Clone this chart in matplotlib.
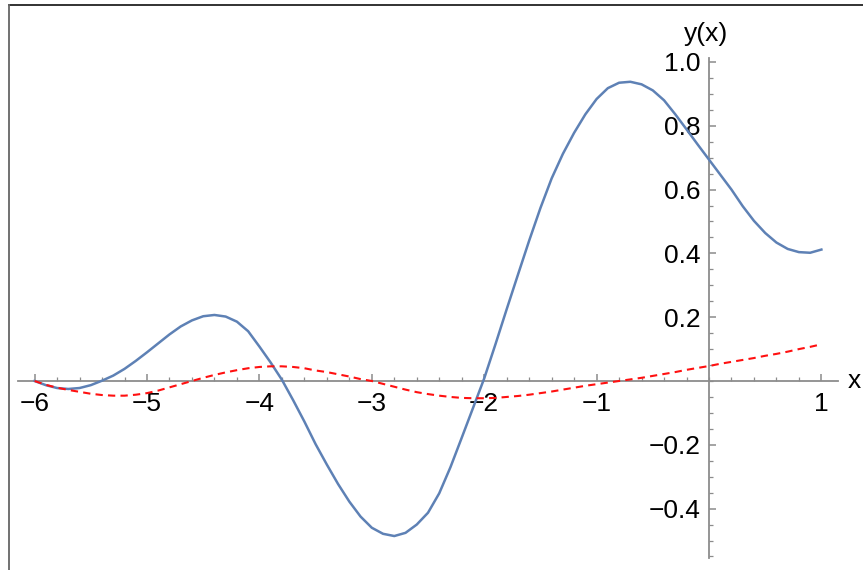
import numpy as np
import matplotlib.pyplot as plt
from matplotlib.lines import Line2D
from matplotlib.ticker import FixedLocator

# x grid (step 0.1 from -6 to 1)
x_vals = np.round(np.arange(-6.0, 1.0001, 0.1), 1)

# solid blue curve y(x)
y_blue = [0.000, -0.013, -0.022, -0.025, -0.022, -0.013, 0.001, 0.017, 0.038, 0.063,
          0.090, 0.118, 0.146, 0.171, 0.190, 0.203, 0.207, 0.202, 0.186, 0.156,
          0.108, 0.058, 0.004, -0.060, -0.127, -0.198, -0.262, -0.323, -0.378, -0.425,
          -0.460, -0.479, -0.486, -0.476, -0.450, -0.413, -0.352, -0.270, -0.178, -0.085,
          0.008, 0.115, 0.225, 0.333, 0.440, 0.542, 0.635, 0.712, 0.778, 0.836,
          0.884, 0.918, 0.935, 0.938, 0.930, 0.911, 0.880, 0.836, 0.789, 0.741,
          0.694, 0.647, 0.600, 0.548, 0.502, 0.464, 0.434, 0.414, 0.404, 0.402,
          0.412]

# dashed red curve
y_red = [0.000, -0.012, -0.021, -0.028, -0.034, -0.040, -0.044, -0.046, -0.046, -0.043,
         -0.038, -0.030, -0.020, -0.010, 0.000, 0.010, 0.019, 0.027, 0.034, 0.040,
         0.044, 0.046, 0.046, 0.044, 0.040, 0.033, 0.028, 0.021, 0.014, 0.006,
         0.000, -0.009, -0.018, -0.027, -0.035, -0.041, -0.046, -0.050, -0.053, -0.054,
         -0.054, -0.053, -0.050, -0.047, -0.043, -0.038, -0.033, -0.027, -0.021, -0.015,
         -0.010, -0.005, 0.000, 0.005, 0.010, 0.016, 0.022, 0.028, 0.035, 0.041,
         0.047, 0.054, 0.060, 0.066, 0.072, 0.079, 0.085, 0.092, 0.100, 0.107,
         0.115]

x_ticks = [-6, -5, -4, -3, -2, -1, 1]
y_ticks = [-0.4, -0.2, 0.2, 0.4, 0.6, 0.8, 1.0]
y_ticklabels = ['\u22120.4', '\u22120.2', '0.2', '0.4', '0.6', '0.8', '1.0']

plt.rcParams['font.family'] = ['Liberation Sans', 'DejaVu Sans']

fig = plt.figure(figsize=(8.63, 5.70), dpi=100)
ax = fig.add_axes([0, 0, 1, 1])
ax.set_xlim(-709 / 112.4, (863 - 709) / 112.4)
ax.set_ylim(-189 / 319, 381 / 319)
ax.patch.set_visible(False)

ax.plot(x_vals, y_blue, color='#5E81B5', linewidth=1.8, solid_joinstyle='round', zorder=3)
ax.plot(x_vals, y_red, color='#FF1010', linewidth=1.5, dashes=(3.5, 2.5), zorder=3)

axcol = '#8c8c8c'
ax.spines['top'].set_visible(False)
ax.spines['right'].set_visible(False)
ax.spines['bottom'].set_position(('data', 0))
ax.spines['left'].set_position(('data', 0))
ax.spines['bottom'].set_bounds(-6.15, 1.15)
ax.spines['left'].set_bounds(-0.555, 1.013)
for s in ['bottom', 'left']:
    ax.spines[s].set_color(axcol)
    ax.spines[s].set_linewidth(1.3)

ax.set_xticks(x_ticks)
ax.set_yticks(y_ticks)
ax.set_yticklabels(y_ticklabels)
# minor ticks only along the drawn axis lines
ax.xaxis.set_minor_locator(FixedLocator(np.round(np.arange(-6.0, 1.01, 0.2), 2)))
ax.yaxis.set_minor_locator(FixedLocator(np.round(np.arange(-0.55, 1.001, 0.05), 3)))

ax.tick_params(axis='x', which='major', direction='in', length=5, width=1.1,
               color=axcol, labelsize=19, pad=8)
ax.tick_params(axis='x', which='minor', direction='in', length=3, width=0.9, color=axcol)
ax.tick_params(axis='y', which='major', direction='in', length=5, width=1.1,
               color=axcol, labelsize=19, pad=6)
ax.tick_params(axis='y', which='minor', direction='in', length=3, width=0.9, color=axcol)

ax.text(-0.03, 1.05, 'y(x)', fontsize=19, ha='center', va='bottom')
ax.text(1.29, 0.0, 'x', fontsize=19, ha='center', va='center')

# screenshot frame on top and left
fig.add_artist(Line2D([9 / 863, 1], [1 - 5 / 570, 1 - 5 / 570], color='#222222',
                      linewidth=1.3, transform=fig.transFigure))
fig.add_artist(Line2D([9 / 863, 9 / 863], [0, 1 - 5 / 570], color='#666666',
                      linewidth=1.3, transform=fig.transFigure))

fig.savefig('out.png', dpi=100)
